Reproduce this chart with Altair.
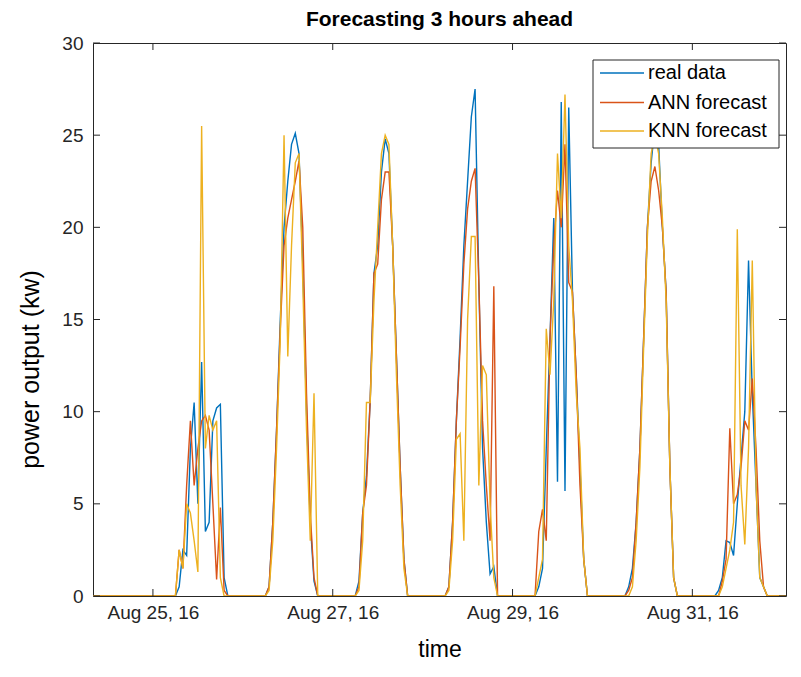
import altair as alt
import pandas as pd

# ---- data (hourly values, 06:00 .. 20:00 each day) ----
DAY_HOURS = list(range(6, 21))
DAYS = ["2016-08-25", "2016-08-26", "2016-08-27", "2016-08-28",
        "2016-08-29", "2016-08-30", "2016-08-31"]

real_data = [
    [0, 0.5, 2.5, 2.2, 8, 10.5, 5, 12.7, 3.5, 4, 9.5, 10.2, 10.4, 1, 0],
    [0, 0.5, 4, 9, 15, 20, 22.5, 24.5, 25.1, 24, 18, 10, 4, 0.8, 0],
    [0, 0.8, 4.5, 6.5, 10.6, 17.5, 19, 23, 24.8, 24, 19, 13, 7, 2, 0],
    [0, 0.5, 4, 9.5, 14, 19, 22.5, 26, 27.5, 17, 8, 4, 1.2, 1.6, 0],
    [0, 0.5, 1.5, 8, 14, 20.5, 6.2, 26.8, 5.7, 26.5, 16.5, 12, 7, 2, 0],
    [0, 0.5, 1.5, 4, 8, 14, 20, 23.5, 25.5, 24.5, 20, 16.5, 7, 1, 0],
    [0, 0.3, 1, 3, 2.9, 2.2, 5, 7.5, 10, 18.2, 11, 6, 1, 0.5, 0],
]
ann_forecast = [
    [0, 2.5, 1.5, 6, 9.5, 6, 8, 9.5, 9.8, 9, 5, 0.9, 4.8, 0.3, 0],
    [0, 0.5, 4, 9, 14.5, 19, 20.5, 21.5, 22.5, 23.6, 20, 11, 4.5, 1, 0],
    [0, 0.5, 4.5, 6, 10.6, 17.5, 18, 21.5, 23, 23, 19, 13, 7, 2, 0],
    [0, 0.5, 4, 9.5, 13.5, 18, 21, 22.5, 23.2, 17, 9.5, 6, 3, 16.8, 0],
    [0, 3.5, 4.7, 3, 14, 19, 22, 20, 24.5, 17, 16.5, 12, 6, 2, 0],
    [0, 0.3, 1, 4, 8, 14, 20, 22.5, 23.3, 22, 20, 16.5, 7, 1, 0],
    [0, 0, 0.8, 2, 9.1, 5, 5.5, 7, 9.5, 9, 11.8, 8, 3, 0.5, 0],
]
knn_forecast = [
    [0, 2.5, 1.5, 5, 4.5, 3, 1.3, 25.5, 8, 9.8, 9, 9.5, 1, 0, 0],
    [0, 0.3, 3, 8, 14, 25, 13, 19, 23.5, 24, 17, 9, 3, 11, 0],
    [0, 0.3, 3, 10.5, 10.5, 16, 20, 24, 25, 24.5, 19, 12, 6, 1.5, 0],
    [0, 0.3, 3, 8.5, 8.8, 3, 15, 19.5, 19.5, 6, 12.5, 12, 5, 1, 0],
    [0, 1, 2, 14.5, 12, 16, 24, 20.5, 27.2, 19, 16, 11, 8, 2, 0],
    [0, 0, 0.5, 3, 7, 13.5, 19.5, 24, 25, 24, 20.5, 16, 7, 1, 0],
    [0, 0, 0.5, 1.5, 2.5, 4, 19.9, 6, 2.8, 8, 18.2, 6, 1, 0.5, 0],
]

SERIES = ["real data", "ANN forecast", "KNN forecast"]
COLORS = ["#0072BD", "#D95319", "#EDB120"]
Y_TICKS = [0, 5, 10, 15, 20, 25, 30]
X_TICKS = ["2016-08-25", "2016-08-27", "2016-08-29", "2016-08-31"]
START, END = "2016-08-24 08:00", "2016-09-01 01:00"

# ---- build tables ----
times = pd.date_range(START, END, freq="h")


def series_frame(name, days_vals):
    lookup = {}
    for d, vals in zip(DAYS, days_vals):
        for h, v in zip(DAY_HOURS, vals):
            lookup[pd.Timestamp(d) + pd.Timedelta(hours=h)] = v
    return pd.DataFrame({"time": times,
                         "power": [lookup.get(t, 0.0) for t in times],
                         "series": name})


frames = [series_frame(n, v) for n, v in
          zip(SERIES, [real_data, ann_forecast, knn_forecast])]

W, H = 693, 553
AXC = "#262626"
FONT = "Liberation Sans"

x_scale = alt.Scale(domain=[pd.Timestamp(START).isoformat(), pd.Timestamp(END).isoformat()])
y_scale = alt.Scale(domain=[0, 30], nice=False)

x_axis = alt.Axis(values=[pd.Timestamp(t).isoformat() for t in X_TICKS],
                  format="%b %d, %y", title="time", ticks=False,
                  domain=False, grid=False, labelPadding=7, titlePadding=16,
                  titleFontSize=23)
y_axis = alt.Axis(values=Y_TICKS, title="power output (kw)", ticks=False,
                  domain=False, grid=False, labelPadding=10, titlePadding=18,
                  titleFontSize=25, titleY=326)

lines = []
for name, df, col in zip(SERIES, frames, COLORS):
    lines.append(alt.Chart(df).mark_line(strokeWidth=1.4, clip=True, color=col).encode(
        x=alt.X("time:T", scale=x_scale, axis=x_axis),
        y=alt.Y("power:Q", scale=y_scale, axis=y_axis),
        detail="series:N"))

# inward tick marks on all four sides (MATLAB box style)
yt = pd.DataFrame({"power": Y_TICKS})
xt = pd.DataFrame({"time": [pd.Timestamp(t) for t in X_TICKS]})
ty = alt.Y("power:Q", scale=y_scale, axis=y_axis)
tx = alt.X("time:T", scale=x_scale, axis=x_axis)
yt_left = alt.Chart(yt).mark_rule(color=AXC, strokeWidth=1).encode(
    y=ty, x=alt.value(0), x2=alt.value(7))
yt_right = alt.Chart(yt).mark_rule(color=AXC, strokeWidth=1).encode(
    y=ty, x=alt.value(W - 7), x2=alt.value(W))
xt_bot = alt.Chart(xt).mark_rule(color=AXC, strokeWidth=1).encode(
    x=tx, y=alt.value(H), y2=alt.value(H - 7))
xt_top = alt.Chart(xt).mark_rule(color=AXC, strokeWidth=1).encode(
    x=tx, y=alt.value(0), y2=alt.value(7))

# legend box (MATLAB style, top-right inside the axes)
LX0, LX1, LY0, LY1 = 500, 686, 17, 105
ROW_Y = [30, 59.5, 88]
leg_src = pd.DataFrame({"series": SERIES})
leg_box = alt.Chart(leg_src.head(1)).mark_rect(
    fill="white", stroke=AXC, strokeWidth=1).encode(
    x=alt.value(LX0), x2=alt.value(LX1), y=alt.value(LY0), y2=alt.value(LY1))
leg_layers = [leg_box]
for i, (name, col) in enumerate(zip(SERIES, COLORS)):
    row = leg_src.iloc[[i]]
    leg_layers.append(alt.Chart(row).mark_rule(color=col, strokeWidth=1.5).encode(
        x=alt.value(LX0 + 7), x2=alt.value(LX0 + 51), y=alt.value(ROW_Y[i])))
    leg_layers.append(alt.Chart(row).mark_text(
        align="left", baseline="middle", font=FONT, fontSize=20, color="#000").encode(
        x=alt.value(LX0 + 55), y=alt.value(ROW_Y[i]), text="series:N"))

chart = alt.layer(*lines, yt_left, yt_right, xt_bot, xt_top, *leg_layers).properties(
    width=W, height=H, background="white",
    title=alt.Title("Forecasting 3 hours ahead", fontSize=21, fontWeight="bold",
                    font=FONT, color="#000", offset=4),
    autosize=alt.AutoSizeParams(type="none"),
    padding={"left": 85, "top": 35, "right": 7, "bottom": 70},
).configure_view(stroke=AXC, strokeWidth=1).configure_axis(
    labelFont=FONT, labelFontSize=19, labelColor=AXC,
    titleFont=FONT, titleColor="#000", titleFontWeight="normal",
)

chart.save("out.html", embed_options={"renderer": "svg", "actions": False})
